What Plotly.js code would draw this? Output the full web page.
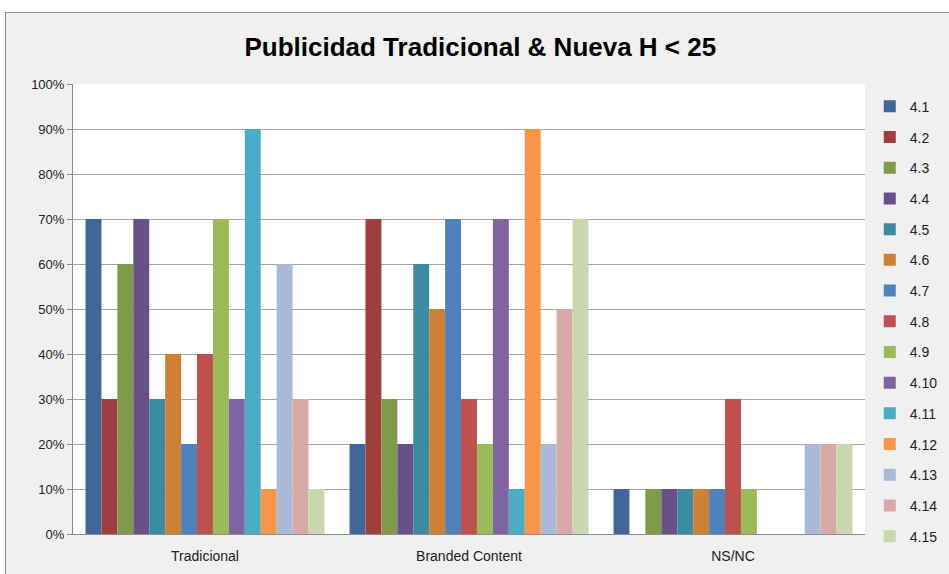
<!DOCTYPE html>
<html>
<head>
<meta charset="utf-8">
<script src="https://cdn.plot.ly/plotly-3.0.1.min.js"></script>
<style>
html,body{margin:0;padding:0;background:#ffffff;width:949px;height:574px;overflow:hidden;}
#frame{position:absolute;left:5px;top:12px;width:944px;height:562px;border-left:1px solid #8c8c8c;border-top:1px solid #8c8c8c;background:#f0f0f0;box-sizing:border-box;}
#chart{position:absolute;left:0;top:0;width:943px;height:561px;}
</style>
</head>
<body>
<div id="frame"><div id="chart"></div></div>
<script>
const categories = ["Tradicional", "Branded Content", "NS/NC"];
const seriesNames = ["4.1","4.2","4.3","4.4","4.5","4.6","4.7","4.8","4.9","4.10","4.11","4.12","4.13","4.14","4.15"];
const tradicional = [0.70,0.30,0.60,0.70,0.30,0.40,0.20,0.40,0.70,0.30,0.90,0.10,0.60,0.30,0.10];
const branded     = [0.20,0.70,0.30,0.20,0.60,0.50,0.70,0.30,0.20,0.70,0.10,0.90,0.20,0.50,0.70];
const nsnc        = [0.10,0.00,0.10,0.10,0.10,0.10,0.10,0.30,0.10,0.00,0.00,0.00,0.20,0.20,0.20];
const colors = ["#3F6797","#9E3F3D","#7F9A48","#6A4F8A","#3B8BA1","#D07F37","#4F81BD","#C0504D","#9BBB59","#8064A2","#4BACC6","#F79646","#A9B9D8","#D9A9A8","#C8D7AD"];

const traces = seriesNames.map((name, i) => ({
  type: "bar",
  name: name,
  x: categories,
  y: [tradicional[i], branded[i], nsnc[i]],
  marker: {color: colors[i], line: {width: 0}},
  legendgroup: "g" + i,
  hoverinfo: "x+y+name"
}));

const layout = {
  width: 943,
  height: 561,
  paper_bgcolor: "rgba(0,0,0,0)",
  plot_bgcolor: "#ffffff",
  margin: {l: 67, r: 84, t: 71, b: 40, autoexpand: false},
  barmode: "group",
  bargap: 0.095,
  bargroupgap: 0,
  title: {
    text: "<b>Publicidad Tradicional &amp; Nueva H &lt; 25</b>",
    font: {family: "Liberation Sans Narrow, Liberation Sans, Arial, sans-serif", size: 26, color: "#000000"},
    x: 0.503, xanchor: "center", y: 0.94, yanchor: "middle"
  },
  font: {family: "Liberation Sans, Arial, sans-serif", size: 13, color: "#222222"},
  xaxis: {
    showgrid: false,
    showline: true, linecolor: "#8c8c8c", linewidth: 1,
    ticks: "", tickfont: {size: 14, color: "#222222"},
    ticklabelstandoff: 9,
    mirror: false
  },
  yaxis: {
    range: [0, 1], dtick: 0.1, tickformat: ".0%",
    showgrid: true, gridcolor: "#a6a6a6", gridwidth: 1,
    showline: true, linecolor: "#8c8c8c", linewidth: 1,
    ticks: "outside", ticklen: 5, tickcolor: "#8c8c8c",
    tickfont: {size: 13, color: "#222222"},
    zeroline: false
  },
  legend: {
    x: 1.006, xanchor: "left", y: 0.985, yanchor: "top",
    bgcolor: "rgba(0,0,0,0)",
    font: {size: 14, color: "#222222"},
    tracegroupgap: 9.5,
    traceorder: "grouped",
    itemwidth: 30,
    maxheight: 560
  },
  showlegend: true
};

Plotly.newPlot("chart", traces, layout, {displayModeBar: false, staticPlot: true});
</script>
</body>
</html>
